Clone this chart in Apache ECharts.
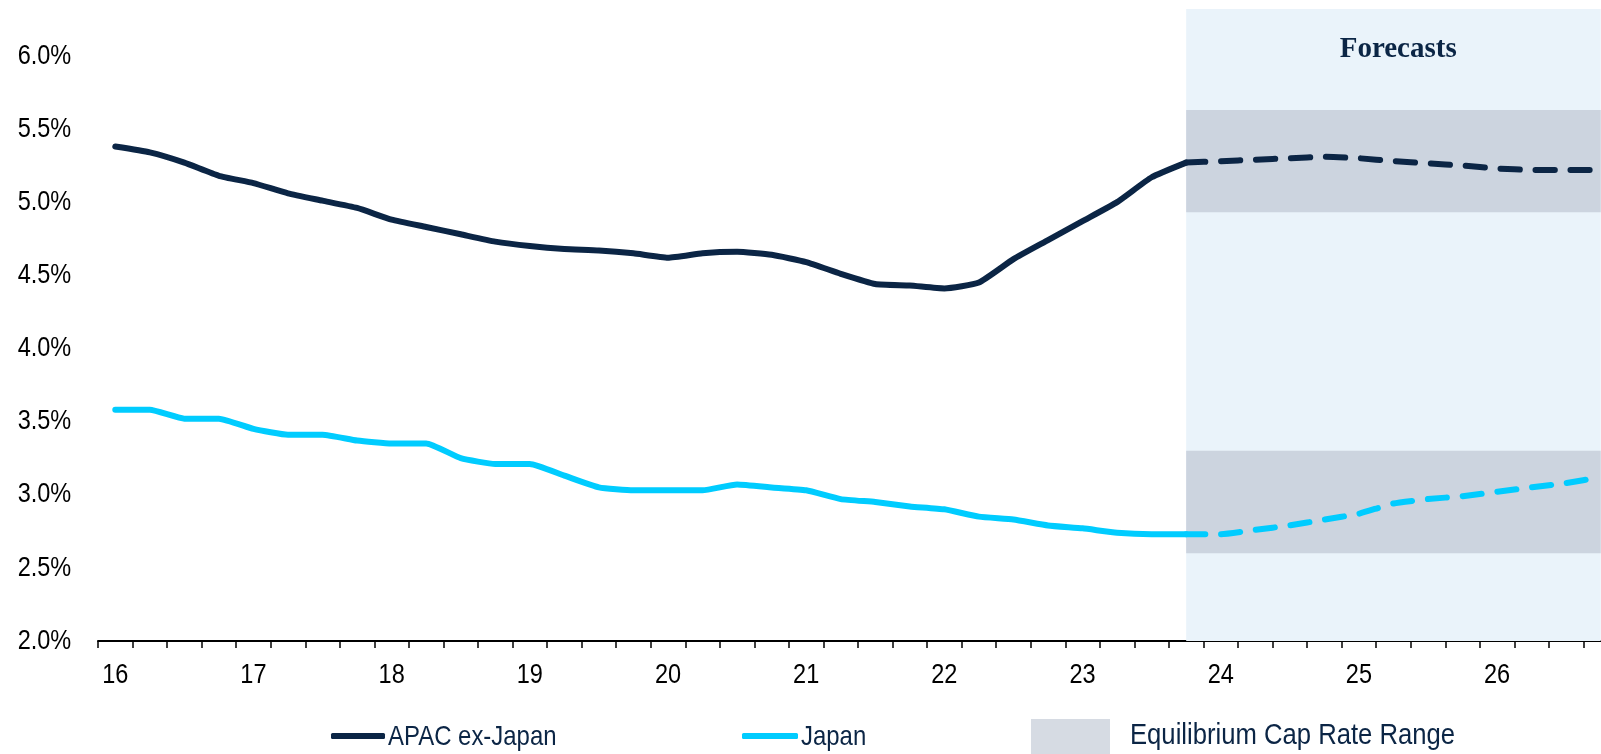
<!DOCTYPE html>
<html>
<head>
<meta charset="utf-8">
<style>
  html, body { margin: 0; padding: 0; background: #ffffff; overflow: hidden; }
  #chart { width: 1620px; height: 754px; }
</style>
<script src="https://cdn.jsdelivr.net/npm/echarts@6/dist/echarts.min.js"></script>
</head>
<body>
<div id="chart"></div>
<script>
// Quarterly cap rates, 2016 Q1 to 2026 Q4 (values in %)
const years = ['16', '17', '18', '19', '20', '21', '22', '23', '24', '25', '26'];
const quarters = ['Q1', 'Q2', 'Q3', 'Q4'];
const categories = [];
years.forEach(function (y) { quarters.forEach(function (q) { categories.push(y + q); }); });

// Actuals, 16Q1 .. 23Q4
const apacActual = [
  5.38, 5.34, 5.27, 5.18, 5.13, 5.06, 5.01, 4.96,
  4.88, 4.83, 4.78, 4.73, 4.70, 4.68, 4.67, 4.65,
  4.62, 4.65, 4.66, 4.64, 4.59, 4.51, 4.44, 4.43,
  4.41, 4.45, 4.61, 4.74, 4.87, 5.00, 5.17, 5.27
];
const japanActual = [
  3.58, 3.58, 3.52, 3.52, 3.45, 3.41, 3.41, 3.37,
  3.35, 3.35, 3.25, 3.21, 3.21, 3.13, 3.05, 3.03,
  3.03, 3.03, 3.07, 3.05, 3.03, 2.97, 2.95, 2.92,
  2.90, 2.85, 2.83, 2.79, 2.77, 2.74, 2.73, 2.73
];
// Forecasts, 24Q1 .. 26Q4
const apacForecast = [5.28, 5.29, 5.30, 5.31, 5.30, 5.28, 5.265, 5.25, 5.23, 5.22, 5.22, 5.22];
const japanForecast = [2.73, 2.76, 2.79, 2.83, 2.87, 2.94, 2.97, 2.99, 3.02, 3.05, 3.08, 3.12];

// Equilibrium cap rate ranges [low, high]
const apacRange = [4.93, 5.63];
const japanRange = [2.60, 3.30];
const forecastStart = '23Q4';
const yTicks = { min: 2.0, max: 6.32, interval: 0.5 };
const yTickValues = [2.0, 2.5, 3.0, 3.5, 4.0, 4.5, 5.0, 5.5, 6.0];
const legendNames = ['APAC ex-Japan', 'Japan', 'Equilibrium Cap Rate Range'];

const NAVY = '#0B2545';
const CYAN = '#00CCFF';
const SANS = '"Liberation Sans", Arial, sans-serif';
const NARROW = 0.84;   // horizontal squeeze for the condensed label face

function actualSeries(values) {
  return categories.map(function (c, i) { return i < values.length ? values[i] : null; });
}
function forecastSeries(actual, forecast) {
  const last = actual.length - 1;
  return categories.map(function (c, i) {
    if (i < last) return null;
    if (i === last) return actual[last];
    return forecast[i - actual.length];
  });
}

const lastCat = categories[categories.length - 1];

const chart = echarts.init(document.getElementById('chart'), null, { renderer: 'canvas' });

const lineBase = { type: 'line', showSymbol: false, symbol: 'none', smooth: 0.15, z: 5, connectNulls: false };

chart.setOption({
  animation: false,
  backgroundColor: '#ffffff',
  grid: { left: 98, right: 2, top: 9, bottom: 113, containLabel: false },
  xAxis: {
    type: 'category',
    data: categories,
    boundaryGap: true,
    axisLine: { lineStyle: { color: '#000000', width: 2 } },
    axisTick: { show: true, interval: 0, length: 7, lineStyle: { color: '#000000', width: 1.5 } },
    axisLabel: { show: false },
    splitLine: { show: false }
  },
  yAxis: {
    type: 'value',
    min: yTicks.min,
    max: yTicks.max,
    interval: yTicks.interval,
    axisLine: { show: false },
    axisTick: { show: false },
    splitLine: { show: false },
    axisLabel: { show: false }
  },
  legend: [
    {
      data: [legendNames[0]], left: 331, top: 733, padding: 0,
      itemWidth: 54, itemHeight: 6, icon: 'roundRect',
      formatter: function () { return ''; }
    },
    {
      data: [legendNames[1]], left: 742, top: 733, padding: 0,
      itemWidth: 56, itemHeight: 6, icon: 'roundRect',
      formatter: function () { return ''; }
    },
    {
      data: [legendNames[2]], left: 1031, top: 719, padding: 0,
      itemWidth: 79, itemHeight: 36, icon: 'rect',
      formatter: function () { return ''; }
    }
  ],
  series: [
    {
      // Forecast period shading
      name: 'Forecast period',
      type: 'line',
      data: [],
      z: 1,
      silent: true,
      markArea: {
        silent: true,
        itemStyle: { color: '#EAF3FA' },
        label: { show: false },
        data: [[
          { xAxis: forecastStart, yAxis: yTicks.max },
          { xAxis: lastCat, yAxis: yTicks.min }
        ]]
      }
    },
    {
      name: legendNames[2],
      type: 'line',
      data: [],
      z: 2,
      silent: true,
      color: '#D6DBE3',
      markArea: {
        silent: true,
        itemStyle: { color: '#CCD4DF' },
        label: { show: false },
        data: [
          [{ xAxis: forecastStart, yAxis: apacRange[1] }, { xAxis: lastCat, yAxis: apacRange[0] }],
          [{ xAxis: forecastStart, yAxis: japanRange[1] }, { xAxis: lastCat, yAxis: japanRange[0] }]
        ]
      }
    },
    Object.assign({}, lineBase, {
      name: legendNames[0],
      color: NAVY,
      data: actualSeries(apacActual),
      lineStyle: { color: NAVY, width: 6, cap: 'round', join: 'round' }
    }),
    Object.assign({}, lineBase, {
      name: 'APAC ex-Japan forecast',
      color: NAVY,
      data: forecastSeries(apacActual, apacForecast),
      lineStyle: { color: NAVY, width: 6, type: [19, 16], cap: 'round', join: 'round' }
    }),
    Object.assign({}, lineBase, {
      name: legendNames[1],
      color: CYAN,
      data: actualSeries(japanActual),
      lineStyle: { color: CYAN, width: 6, cap: 'round', join: 'round' }
    }),
    Object.assign({}, lineBase, {
      name: 'Japan forecast',
      color: CYAN,
      data: forecastSeries(japanActual, japanForecast),
      lineStyle: { color: CYAN, width: 6, type: [19, 16], cap: 'round', join: 'round' }
    })
  ]
});

// Condensed text: tick labels, legend labels and the forecast caption,
// placed through the axes' own pixel conversion.
function condensedText(x, y, text, size, color, align, squeeze) {
  return {
    type: 'text', x: x, y: y, scaleX: squeeze || NARROW, silent: true, z: 10,
    style: {
      text: text, fontFamily: SANS, fontSize: size, fill: color,
      textAlign: align, textVerticalAlign: 'middle', align: align, verticalAlign: 'middle'
    }
  };
}

const labels = [];
const axisY = chart.convertToPixel({ yAxisIndex: 0 }, yTicks.min);
const gridLeft = chart.convertToPixel({ xAxisIndex: 0 }, categories[0]) - 17;

yTickValues.forEach(function (v) {
  const py = chart.convertToPixel({ yAxisIndex: 0 }, v);
  labels.push(condensedText(gridLeft - 27, py, v.toFixed(1) + '%', 28, '#000000', 'right'));
});
years.forEach(function (y) {
  const px = chart.convertToPixel({ xAxisIndex: 0 }, y + 'Q1');
  labels.push(condensedText(px, axisY + 34, y, 28, '#000000', 'center'));
});
labels.push(condensedText(388, 737, legendNames[0], 28, NAVY, 'left', 0.855));
labels.push(condensedText(801, 737, legendNames[1], 28, NAVY, 'left', 0.855));
labels.push(condensedText(1130, 736, legendNames[2], 30, NAVY, 'left', 0.855));

const fx0 = chart.convertToPixel({ xAxisIndex: 0 }, forecastStart);
labels.push({
  type: 'text', x: fx0 + 212, y: 50, silent: true, z: 10,
  style: {
    text: 'Forecasts', fontFamily: '"Liberation Serif", "Times New Roman", serif',
    fontWeight: 'bold', fontSize: 29, fill: NAVY,
    textAlign: 'center', textVerticalAlign: 'middle', align: 'center', verticalAlign: 'middle'
  }
});

chart.setOption({ graphic: labels });
</script>
</body>
</html>
